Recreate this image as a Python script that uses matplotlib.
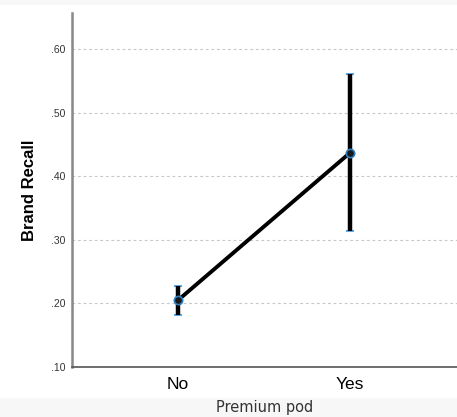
import numpy as np
import matplotlib.pyplot as plt
from matplotlib.patches import Rectangle

# Data
categories = ['No', 'Yes']
means = [0.205, 0.437]
lower = [0.182, 0.314]
upper = [0.227, 0.561]
yticks = [0.10, 0.20, 0.30, 0.40, 0.50, 0.60]
ytick_labels = ['.10', '.20', '.30', '.40', '.50', '.60']

fig = plt.figure(figsize=(4.57, 4.17), dpi=100)
fig.patch.set_facecolor('white')

# light grey bands at top and bottom
fig.patches.append(Rectangle((0, 0), 1, 19 / 417, transform=fig.transFigure,
                             facecolor='#f7f7f7', edgecolor='none', zorder=0))
fig.patches.append(Rectangle((0, 1 - 5 / 417), 1, 5 / 417, transform=fig.transFigure,
                             facecolor='#f7f7f7', edgecolor='none', zorder=0))

ax = fig.add_axes([72 / 457, 1 - 367 / 417, 1 - 72 / 457, (367 - 13) / 417])
x = np.arange(len(categories))

# error bars
for xi, lo, hi in zip(x, lower, upper):
    ax.plot([xi, xi], [lo, hi], color='black', lw=3.2, solid_capstyle='butt', zorder=3)
    ax.plot([xi - 0.02, xi + 0.02], [lo, lo], color='#5aa9e6', lw=1.5, zorder=2)
    ax.plot([xi - 0.02, xi + 0.02], [hi, hi], color='#5aa9e6', lw=1.5, zorder=2)

ax.plot(x, means, color='black', lw=2.8, zorder=4)
ax.plot(x, means, 'o', ms=6, markerfacecolor='#1a1a1a', markeredgecolor='#2f7fc0',
        markeredgewidth=1.2, zorder=5)

ax.set_xlim(-0.616, 1.622)
ax.set_ylim(0.10, 0.657)
ax.set_yticks(yticks)
ax.set_yticklabels(ytick_labels, fontsize=7.5, color='#333333', family='Liberation Sans')
ax.set_xticks(x)
ax.set_xticklabels(categories, fontsize=12.5, family='Liberation Sans')
ax.tick_params(axis='y', length=0, pad=5)
ax.tick_params(axis='x', length=0, pad=7)
ax.grid(axis='y', color='#c8c8c8', linestyle=(0, (2.5, 2.5)), lw=0.8)
ax.set_axisbelow(True)

for side in ['top', 'right']:
    ax.spines[side].set_visible(False)
ax.spines['left'].set_color('#888888')
ax.spines['left'].set_linewidth(1.8)
ax.spines['bottom'].set_color('#555555')
ax.spines['bottom'].set_linewidth(1.2)

ax.set_ylabel('Brand Recall', fontsize=12, fontweight='bold', labelpad=10,
              family='Liberation Sans')
fig.text(0.5 * (72 + 457) / 457, 9.5 / 417, 'Premium pod', ha='center', va='center',
         fontsize=10.5, color='#333333')

fig.savefig('out.png', dpi=100)
